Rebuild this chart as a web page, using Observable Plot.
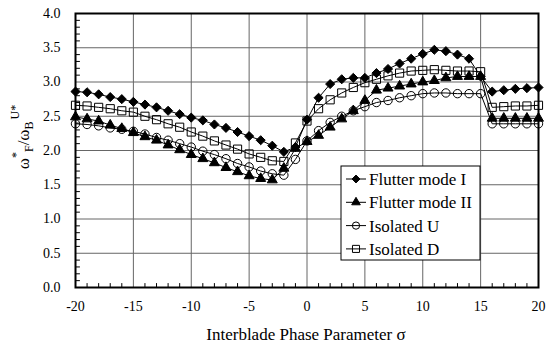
<!DOCTYPE html>
<html><head><meta charset="utf-8">
<script src="https://cdn.jsdelivr.net/npm/d3@7"></script>
<script src="https://cdn.jsdelivr.net/npm/@observablehq/plot@0.6"></script>
<style>body{margin:0;background:#fff} svg{display:block}</style>
</head><body><div id="chart"></div>
<script>
const sigma = [-20,-19,-18,-17,-16,-15,-14,-13,-12,-11,-10,-9,-8,-7,-6,-5,-4,-3,-2,-1,0,1,2,3,4,5,6,7,8,9,10,11,12,13,14,15,16,17,18,19,20];
const flutterModeI = [2.86,2.85,2.82,2.78,2.75,2.71,2.67,2.63,2.58,2.53,2.48,2.44,2.38,2.33,2.27,2.21,2.15,2.07,1.98,2.05,2.45,2.77,2.97,3.04,3.06,3.06,3.13,3.19,3.27,3.34,3.41,3.47,3.45,3.40,3.34,3.08,2.86,2.88,2.90,2.91,2.92];
const flutterModeII = [2.49,2.46,2.43,2.37,2.32,2.26,2.20,2.15,2.08,2.01,1.94,1.88,1.82,1.75,1.69,1.63,1.59,1.57,1.74,2.03,2.13,2.22,2.34,2.46,2.58,2.73,2.88,2.91,2.94,2.97,3.00,3.02,3.06,3.08,3.08,3.08,2.47,2.47,2.47,2.47,2.47];
const isolatedU = [2.39,2.38,2.36,2.33,2.31,2.28,2.24,2.19,2.15,2.10,2.05,1.99,1.94,1.88,1.81,1.76,1.70,1.66,1.64,1.87,2.14,2.29,2.41,2.50,2.58,2.64,2.70,2.73,2.77,2.80,2.83,2.84,2.84,2.83,2.83,2.83,2.39,2.39,2.39,2.39,2.39];
const isolatedD = [2.66,2.65,2.63,2.61,2.58,2.56,2.50,2.45,2.39,2.34,2.27,2.21,2.14,2.08,2.02,1.95,1.90,1.85,1.84,2.11,2.43,2.61,2.74,2.84,2.92,2.99,3.04,3.09,3.13,3.16,3.17,3.18,3.17,3.16,3.16,3.15,2.63,2.64,2.65,2.65,2.66];
const seriesNames = ["Flutter mode I","Flutter mode II","Isolated U","Isolated D"];
const xMajorTicks = [-20,-15,-10,-5,0,5,10,15,20];
const xMinorTicks = [-19,-18,-17,-16,-14,-13,-12,-11,-9,-8,-7,-6,-4,-3,-2,-1,1,2,3,4,6,7,8,9,11,12,13,14,16,17,18,19];
const yMajorTicks = [0,0.5,1,1.5,2,2.5,3,3.5,4];
const yMinorTicks = [0.1,0.2,0.3,0.4,0.6,0.7,0.8,0.9,1.1,1.2,1.3,1.4,1.6,1.7,1.8,1.9,2.1,2.2,2.3,2.4,2.6,2.7,2.8,2.9,3.1,3.2,3.3,3.4,3.6,3.7,3.8,3.9];
const xTitle = "Interblade Phase Parameter σ";

const seriesValues = [flutterModeI, flutterModeII, isolatedU, isolatedD];
const styles = [
  {symbol:"diamond2", fill:"black", r:4.1},
  {symbol:"triangle", fill:"black", r:3.7},
  {symbol:"circle", fill:"none", r:4.2},
  {symbol:"square", fill:"none", r:4.6}
];
const rows = [];
seriesNames.forEach((name, s) => seriesValues[s].forEach((v, i) => rows.push({sigma: sigma[i], value: v, series: name})));

const tickShape = {draw(context, l) { context.moveTo(0, 0); context.lineTo(0, -l); }};
const W = 546, H = 345;
const chart = Plot.plot({
  width: W, height: H,
  marginLeft: 75, marginRight: 8, marginTop: 13, marginBottom: 58,
  style: {fontFamily: "'Liberation Serif', 'Times New Roman', serif", fontSize: "14px", background: "white", color: "black"},
  x: {domain: [-20, 20]},
  y: {domain: [0, 4]},
  marks: [
    Plot.gridX(xMajorTicks, {stroke: "#666", strokeOpacity: 1, strokeWidth: 1}),
    Plot.gridY(yMajorTicks, {stroke: "#666", strokeOpacity: 1, strokeWidth: 1}),
    Plot.vector(xMinorTicks, {x: d => d, frameAnchor: "bottom", length: 4, rotate: 0, anchor: "start", shape: tickShape, stroke: "black", strokeWidth: 1}),
    Plot.vector(yMinorTicks, {y: d => d, frameAnchor: "left", length: 4, rotate: 90, anchor: "start", shape: tickShape, stroke: "black", strokeWidth: 1}),
    Plot.axisX(xMajorTicks, {tickSize: 0, tickPadding: 14, label: null, fontSize: 14, tickFormat: d => String(d)}),
    Plot.axisY(yMajorTicks, {tickSize: 0, tickPadding: 15, label: null, fontSize: 14, tickFormat: d => d.toFixed(1)}),
    ...seriesNames.map(name => Plot.line(rows.filter(d => d.series === name), {x: "sigma", y: "value", stroke: "black", strokeWidth: 1})),
    ...seriesNames.map((name, s) => Plot.dot(rows.filter(d => d.series === name), {x: "sigma", y: "value", symbol: () => styles[s].symbol, r: styles[s].r, fill: styles[s].fill, stroke: "black", strokeWidth: 1})),
    Plot.frame({stroke: "black", strokeWidth: 2})
  ]
});
document.getElementById("chart").appendChild(chart);

const svg = d3.select(chart);
const font = "'Liberation Serif', 'Times New Roman', serif";
// x title
svg.append("text").attr("x", 306).attr("y", 340).attr("text-anchor", "middle")
  .attr("font-family", font).attr("font-size", 17).attr("fill", "black").text(xTitle);
// y title
const yt = svg.append("text").attr("transform", "translate(29,137) rotate(-90)").attr("text-anchor", "middle")
  .attr("font-family", font).attr("font-size", 17).attr("fill", "black");
yt.append("tspan").text("ω");
yt.append("tspan").attr("dy", -9).attr("font-size", 12).text("*");
yt.append("tspan").attr("dy", 13).attr("font-size", 12).text("F");
yt.append("tspan").attr("dy", -4).text("/ω");
yt.append("tspan").attr("dy", 4).attr("font-size", 12).text("B");
yt.append("tspan").attr("dy", -14).attr("dx", 2).attr("font-size", 12).text("U*");

// legend
const lg = svg.append("g").attr("transform", "translate(341,166)");
lg.append("rect").attr("width", 139).attr("height", 94).attr("fill", "white").attr("stroke", "black").attr("stroke-width", 1);
const sym = {diamond2: d3.symbolDiamond2, triangle: d3.symbolTriangle, circle: d3.symbolCircle, square: d3.symbolSquare};
seriesNames.forEach((name, s) => {
  const y = 13 + s * 23.3;
  const g = lg.append("g").attr("transform", `translate(0,${y})`);
  g.append("line").attr("x1", 5).attr("x2", 25).attr("stroke", "black");
  g.append("path").attr("transform", "translate(15,0)")
    .attr("d", d3.symbol(sym[styles[s].symbol], Math.PI * styles[s].r * styles[s].r * 0.75)())
    .attr("fill", styles[s].fill).attr("stroke", "black");
  g.append("text").attr("x", 28).attr("dy", "0.35em").attr("text-anchor", "start")
    .attr("font-family", font).attr("font-size", 17).attr("fill", "black").text(name);
});
</script></body></html>
